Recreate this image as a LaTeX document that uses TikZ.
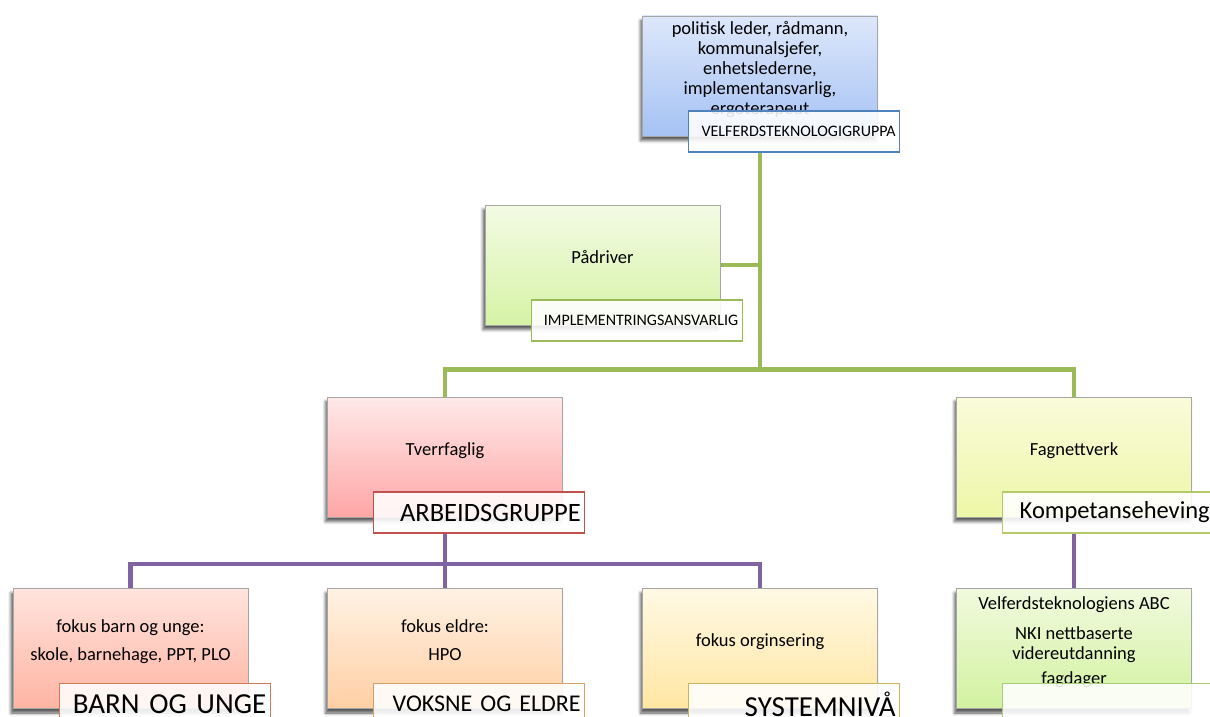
\documentclass[tikz,border=0pt]{standalone}
\usepackage{fontspec}
\setmainfont{Carlito}
\usetikzlibrary{shapes,arrows,calc,fit,shadows.blur}

\pgfdeclarelayer{bg}
\pgfsetlayers{bg,main}

\definecolor{blueA}{HTML}{DDE7FA}
\definecolor{blueB}{HTML}{A5C2F4}
\definecolor{blueC}{HTML}{4F81BD}
\definecolor{greenA}{HTML}{F3FBE4}
\definecolor{greenB}{HTML}{D6F3A6}
\definecolor{greenC}{HTML}{9BBB59}
\definecolor{redA}{HTML}{FFE9E9}
\definecolor{redB}{HTML}{FFA6A6}
\definecolor{redC}{HTML}{C0504D}
\definecolor{yelA}{HTML}{FAFBDA}
\definecolor{yelB}{HTML}{EEF7A8}
\definecolor{yelC}{HTML}{B5C86A}
\definecolor{salA}{HTML}{FFE4DD}
\definecolor{salB}{HTML}{FFB4A2}
\definecolor{salC}{HTML}{D07A5A}
\definecolor{orA}{HTML}{FFF2E4}
\definecolor{orB}{HTML}{FFCFA4}
\definecolor{orC}{HTML}{D3A068}
\definecolor{goldA}{HTML}{FFF9E4}
\definecolor{goldB}{HTML}{FFE6A2}
\definecolor{goldC}{HTML}{C9B35C}
\definecolor{limeA}{HTML}{F1FADE}
\definecolor{limeB}{HTML}{D2F2A0}
\definecolor{limeC}{HTML}{A9CD75}
\definecolor{purp}{HTML}{8064A2}

\tikzset{
	box/.style={draw=gray!70, line width=0.8pt, minimum width=235pt, minimum height=120pt,
		inner sep=0pt, align=center, font=\fontsize{18.5}{20}\selectfont, text depth=16pt,
		blur shadow={shadow xshift=-2pt, shadow yshift=-4.5pt, shadow blur radius=3pt, shadow opacity=65}},
	tag/.style={draw, line width=1.3pt, fill=white, fill opacity=0.88, text opacity=1,
		minimum height=41pt, text width=203pt, inner xsep=4pt, inner ysep=0pt,
		align=right, anchor=north west},
	gline/.style={draw=greenC, line width=4.5pt},
	pline/.style={draw=purp, line width=4.5pt}
}

\begin{document}
\begin{tikzpicture}[x=1pt, y=-1pt]
	\useasboundingbox (0,0) rectangle (1210,717);
	\clip (0,0) rectangle (1210,717);

	\node[box, top color=blueA, bottom color=blueB] (vgruppe) at (760,76) {politisk leder, rådmann,\\kommunalsjefer,\\enhetslederne,\\implementansvarlig,\\ergoterapeut};
	\node[tag, draw=blueC, font=\fontsize{16}{17}\selectfont] (vgruppetag) at ([shift={(46,-26)}]vgruppe.south west) {VELFERDSTEKNOLOGIGRUPPA};

	\node[box, top color=greenA, bottom color=greenB] (padriver) at (602.5,265) {Pådriver};
	\node[tag, draw=greenC, font=\fontsize{16}{17}\selectfont] (padrivertag) at ([shift={(46,-26)}]padriver.south west) {IMPLEMENTRINGSANSVARLIG};

	\node[box, top color=redA, bottom color=redB] (tverr) at (445,457) {Tverrfaglig};
	\node[tag, draw=redC, font=\fontsize{26.5}{28}\selectfont] (tverrtag) at ([shift={(46,-26)}]tverr.south west) {ARBEIDSGRUPPE};

	\node[box, top color=yelA, bottom color=yelB] (fag) at (1074,457) {Fagnettverk};
	\node[tag, draw=yelC, font=\fontsize{24.5}{26}\selectfont] (fagtag) at ([shift={(46,-26)}]fag.south west) {Kompetanseheving};

	\node[box, top color=salA, bottom color=salB] (barn) at (130.5,648.5) {fokus barn og unge:\\[8pt]skole, barnehage, PPT, PLO};
	\node[tag, draw=salC, font=\fontsize{29}{30}\selectfont] (barntag) at ([shift={(46,-26)}]barn.south west) {BARN OG UNGE};

	\node[box, top color=orA, bottom color=orB] (eldre) at (445,648.5) {fokus eldre:\\[8pt]HPO};
	\node[tag, draw=orC, font=\fontsize{24}{26}\selectfont] (eldretag) at ([shift={(46,-26)}]eldre.south west) {VOKSNE OG ELDRE};

	\node[box, top color=goldA, bottom color=goldB] (system) at (760,648.5) {fokus orginsering};
	\node[tag, draw=goldC, font=\fontsize{29}{30}\selectfont] (systemtag) at ([shift={(46,-26)}]system.south west) {SYSTEMNIVÅ};

	\node[box, top color=limeA, bottom color=limeB] (kompe) at (1074,648.5) {Velferdsteknologiens ABC\\[10pt]NKI nettbaserte\\videreutdanning\\[5pt]fagdager};
	\node[tag, draw=limeC] (kompetag) at ([shift={(46,-26)}]kompe.south west) {};

	\begin{pgfonlayer}{bg}
		\draw[gline] (vgruppe.south |- vgruppetag.south) |- ([yshift=27pt]tverr.north) -- (tverr.north);
		\draw[gline] (vgruppe.south |- vgruppetag.south) |- ([yshift=27pt]fag.north) -- (fag.north);
		\draw[gline] (padriver.east) -- (padriver.east -| vgruppe.south);
		\draw[pline] (tverr.south |- tverrtag.south) |- ([yshift=24pt]barn.north) -- (barn.north);
		\draw[pline] (tverr.south |- tverrtag.south) |- ([yshift=24pt]system.north) -- (system.north);
		\draw[pline] (tverr.south |- tverrtag.south) -- (eldre.north);
		\draw[pline] (fag.south |- fagtag.south) -- (kompe.north);
	\end{pgfonlayer}
\end{tikzpicture}
\end{document}
